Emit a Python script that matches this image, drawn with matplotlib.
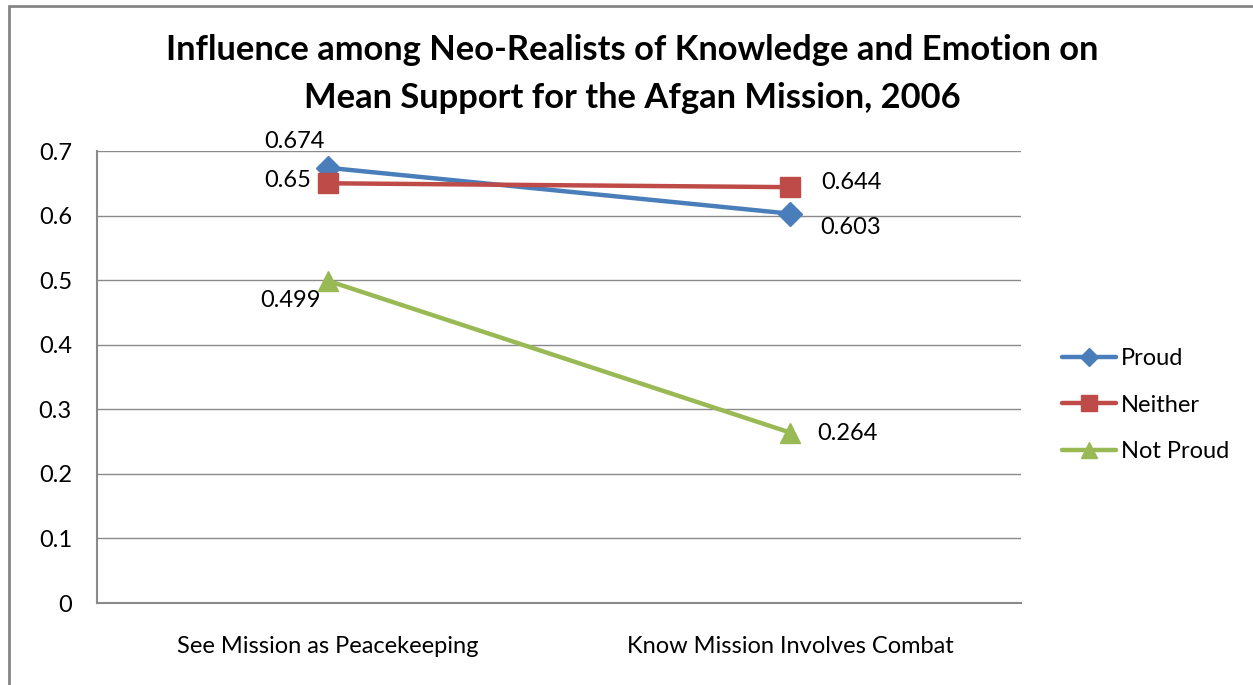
import matplotlib.pyplot as plt
from matplotlib.patches import Rectangle

# Mean support for the Afghan mission, 2006
categories = ["See Mission as Peacekeeping", "Know Mission Involves Combat"]
proud = [0.674, 0.603]
neither = [0.65, 0.644]
not_proud = [0.499, 0.264]

series = [
    ("Proud", proud, "#4A7EBB", "D", 12),
    ("Neither", neither, "#BE4B48", "s", 14),
    ("Not Proud", not_proud, "#98B954", "^", 14),
]

# label offsets (points) for each data label: (first, second)
label_offsets = {
    "Proud": [(-24, 19), (44, -10)],
    "Neither": [(-29, 2), (44, 3.5)],
    "Not Proud": [(-27, -14), (41, -1)],
}

plt.rcParams['font.family'] = ['Lato', 'DejaVu Sans']

fig = plt.figure(figsize=(12.53, 6.85), dpi=100)
fig.patches.append(Rectangle((9 / 1253, -0.1), 1.2, (685 - 6) / 685 + 0.1,
                             transform=fig.transFigure, fill=False,
                             edgecolor="#858585", lw=2))

ax = fig.add_axes([97 / 1253, 1 - 603 / 685, (1021 - 97) / 1253, (603 - 151) / 685])

x = list(range(len(categories)))
for name, vals, color, marker, ms in series:
    ax.plot(x, vals, color=color, lw=3.2, marker=marker, markersize=ms,
            label=name, solid_capstyle="round")
    for xi, v, off in zip(x, vals, label_offsets[name]):
        ax.annotate(f"{v:g}", (xi, v), xytext=off, textcoords="offset points",
                    ha="center", va="center", fontsize=17)

ax.set_xlim(-0.5, 1.5)
ax.set_ylim(0, 0.7)
ax.set_yticks([0, 0.1, 0.2, 0.3, 0.4, 0.5, 0.6, 0.7])
ax.set_yticklabels(["0", "0.1", "0.2", "0.3", "0.4", "0.5", "0.6", "0.7"])
ax.set_xticks(x)
ax.set_xticklabels(categories)
ax.tick_params(axis="both", length=0, labelsize=17)
ax.tick_params(axis="y", pad=18)
ax.tick_params(axis="x", pad=24)
ax.grid(axis="y", color="#8a8a8a", lw=1)
ax.set_axisbelow(True)
for side in ["top", "right"]:
    ax.spines[side].set_visible(False)
for side in ["left", "bottom"]:
    ax.spines[side].set_color("#8a8a8a")
    ax.spines[side].set_linewidth(1.5)

ax.legend(loc="center left", bbox_to_anchor=(1.044, 0.438), frameon=False,
          fontsize=17, handlelength=2.3, labelspacing=1.07, handletextpad=0.2,
          borderaxespad=0, borderpad=0, markerscale=0.8)

fig.text(632 / 1253, 1 - 74 / 685,
         "Influence among Neo-Realists of Knowledge and Emotion on\n"
         "Mean Support for the Afgan Mission, 2006",
         ha="center", va="center", fontsize=24.8, fontweight="bold",
         linespacing=1.58)

fig.savefig("out.png", dpi=100, facecolor="white")
